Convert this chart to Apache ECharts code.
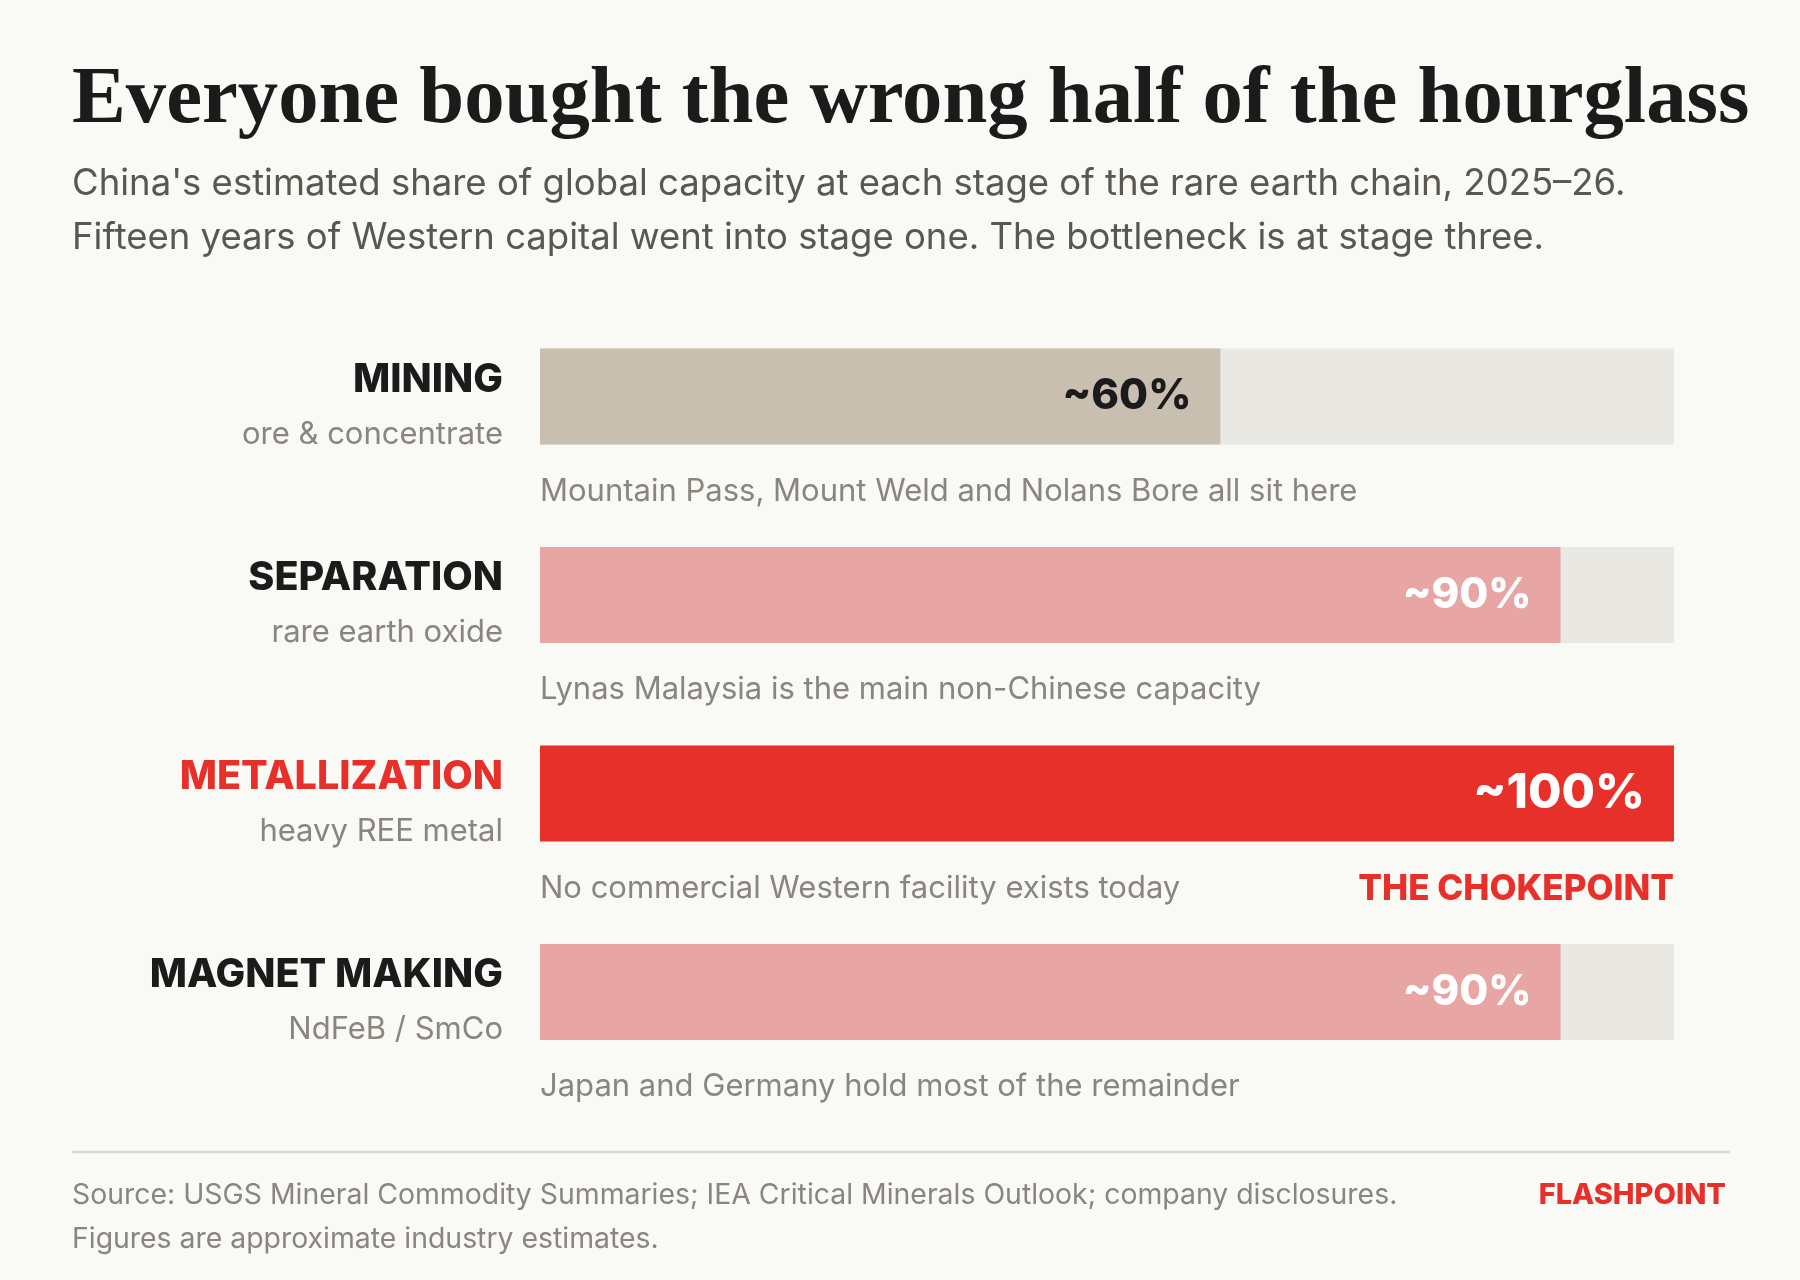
<!DOCTYPE html>
<html>
<head>
<meta charset="utf-8">
<script src="https://cdn.jsdelivr.net/npm/echarts@6/dist/echarts.min.js"></script>
<style>
  html, body { margin: 0; padding: 0; background: #f9f9f5; }
  #chart { width: 1800px; height: 1280px; }
</style>
</head>
<body>
<div id="chart"></div>
<script>
// ---- data ----
const categories = ['MINING', 'SEPARATION', 'METALLIZATION', 'MAGNET MAKING'];
const stageNotes = ['ore & concentrate', 'rare earth oxide', 'heavy REE metal', 'NdFeB / SmCo'];
const chinaShare = [60, 90, 100, 90];
const annotations = [
  'Mountain Pass, Mount Weld and Nolans Bore all sit here',
  'Lynas Malaysia is the main non-Chinese capacity',
  'No commercial Western facility exists today',
  'Japan and Germany hold most of the remainder'
];
const callouts = ['', '', 'THE CHOKEPOINT', ''];
const highlightIndex = 2;

// ---- styles ----
const barColors = ['#c9bfb0', '#e7a6a3', '#e8302b', '#e7a6a3'];
const valueLabelColors = ['#1b1b1b', '#ffffff', '#ffffff', '#ffffff'];
const valueLabelSizes = [42, 42, 48.5, 42];
const RED = '#e8302b';

const chart = echarts.init(document.getElementById('chart'), null, { renderer: 'canvas' });

const option = {
  backgroundColor: '#f9f9f5',
  animation: false,
  title: [
    {
      text: 'Everyone bought the wrong half of the hourglass',
      left: 72, top: 61, padding: 0,
      textStyle: { fontFamily: 'Liberation Serif', fontWeight: 'bold', fontSize: 80.7, lineHeight: 81, color: '#1b1b1b' }
    },
    {
      text: "China's estimated share of global capacity at each stage of the rare earth chain, 2025\u201326.\nFifteen years of Western capital went into stage one. The bottleneck is at stage three.",
      left: 72, top: 157, padding: 0,
      textStyle: { fontFamily: 'Inter', fontWeight: 'normal', fontSize: 36.5, lineHeight: 54, color: '#5a5650' }
    },
    {
      text: 'Source: USGS Mineral Commodity Summaries; IEA Critical Minerals Outlook; company disclosures.\nFigures are approximate industry estimates.',
      left: 72, top: 1173, padding: 0,
      textStyle: { fontFamily: 'Inter', fontWeight: 'normal', fontSize: 28.4, lineHeight: 44.5, color: '#8a857f' }
    },
    {
      text: 'FLASHPOINT',
      right: 74, top: 1173, padding: 0,
      textStyle: { fontFamily: 'Inter', fontWeight: 800, fontSize: 29, lineHeight: 44.5, color: RED }
    }
  ],
  graphic: [
    {
      type: 'line',
      shape: { x1: 72, y1: 1152, x2: 1730, y2: 1152 },
      style: { stroke: '#dcd8d0', lineWidth: 2.5 }
    }
  ],
  grid: { left: 540, right: 126, top: 297.25, bottom: 188.75, containLabel: false },
  xAxis: {
    type: 'value', min: 0, max: 100, show: false
  },
  yAxis: {
    type: 'category',
    data: categories,
    inverse: true,
    axisLine: { show: false },
    axisTick: { show: false },
    splitLine: { show: false },
    axisLabel: {
      margin: 37,
      align: 'right',
      formatter: function (value, idx) {
        const key = idx === highlightIndex ? 'nameRed' : 'name';
        return '{' + key + '|' + value + '}\n{sub|' + stageNotes[idx] + '}';
      },
      rich: {
        name: { fontFamily: 'Inter', fontWeight: 800, fontSize: 39.5, lineHeight: 76, color: '#1b1b1b', align: 'right' },
        nameRed: { fontFamily: 'Inter', fontWeight: 800, fontSize: 39.5, lineHeight: 76, color: RED, align: 'right' },
        sub: { fontFamily: 'Inter', fontWeight: 'normal', fontSize: 31, lineHeight: 33, color: '#8a857f', align: 'right' }
      }
    }
  },
  series: [
    {
      type: 'bar',
      barWidth: 96,
      showBackground: true,
      backgroundStyle: { color: '#eae8e3' },
      data: chinaShare.map((v, i) => ({
        value: v,
        itemStyle: { color: barColors[i] },
        label: { color: valueLabelColors[i], fontSize: valueLabelSizes[i] }
      })),
      label: {
        show: true,
        position: 'insideRight',
        distance: 29,
        fontFamily: 'Inter',
        fontWeight: 800,
        formatter: '~{c}%'
      },
      silent: true
    },
    {
      type: 'scatter',
      symbolSize: 0,
      silent: true,
      itemStyle: { opacity: 1 },
      data: annotations.map((t, i) => ({ value: [0, i], name: t })),
      label: {
        show: true,
        position: 'right',
        distance: 0,
        offset: [0, 95],
        formatter: '{b}',
        fontFamily: 'Inter',
        fontSize: 31,
        color: '#8a857f',
        opacity: 1
      }
    },
    {
      type: 'scatter',
      symbolSize: 0,
      silent: true,
      itemStyle: { opacity: 1 },
      data: callouts.map((t, i) => ({ value: [100, i], name: t })).filter(d => d.name),
      label: {
        show: true,
        position: 'left',
        distance: 0,
        offset: [0, 96],
        formatter: '{b}',
        fontFamily: 'Inter',
        fontWeight: 800,
        fontSize: 35,
        color: RED,
        opacity: 1
      }
    }
  ]
};

chart.setOption(option);
</script>
</body>
</html>
